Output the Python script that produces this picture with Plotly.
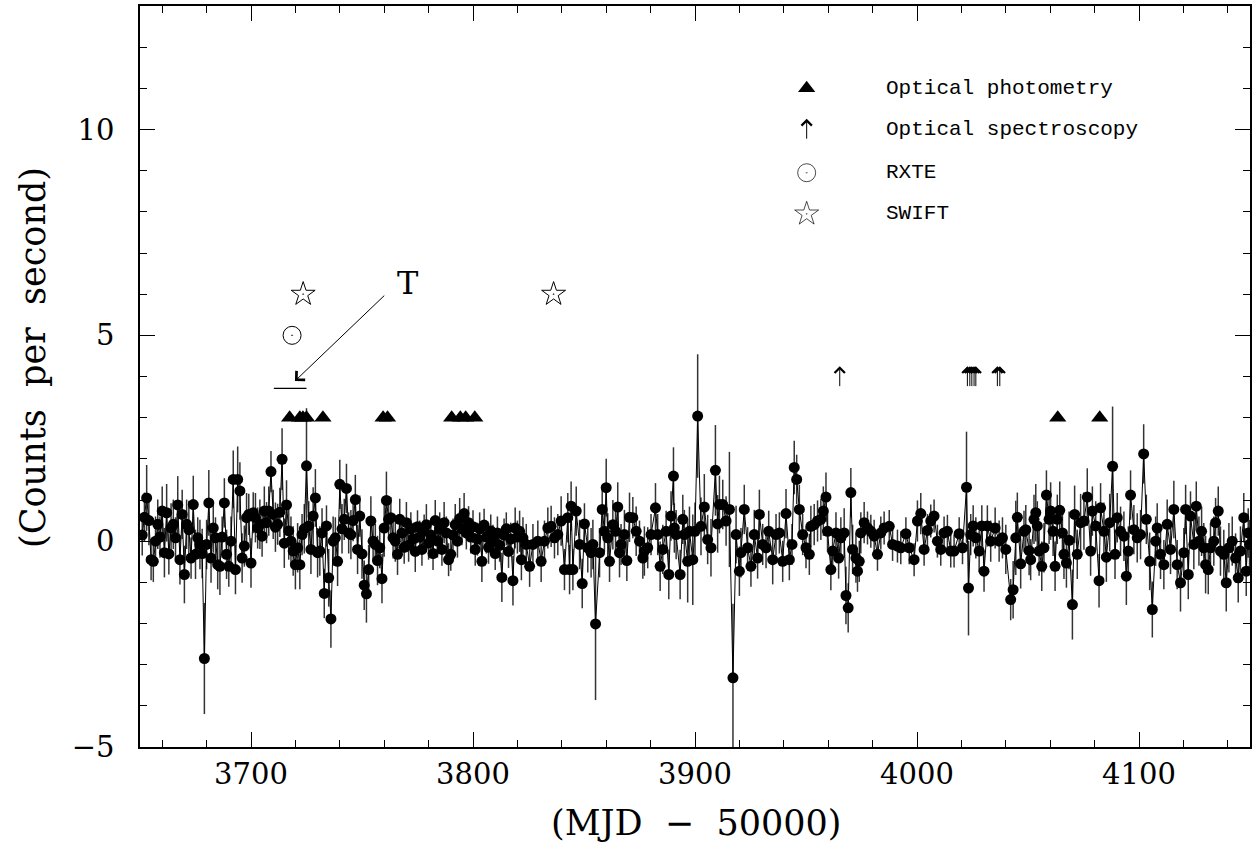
import plotly.graph_objects as go

# light curve: one point per day up to 3820, read point by point after that
mjd_a = [
    3651, 3652, 3653, 3654, 3655, 3656, 3657, 3658, 3659, 3660,
    3661, 3662, 3663, 3664, 3665, 3666, 3667, 3668, 3669, 3670,
    3671, 3672, 3673, 3674, 3675, 3676, 3677, 3678, 3679, 3680,
    3681, 3682, 3683, 3684, 3685, 3686, 3687, 3688, 3689, 3690,
    3691, 3692, 3693, 3694, 3695, 3696, 3697, 3698, 3699, 3700,
    3701, 3702, 3703, 3704, 3705, 3706, 3707, 3708, 3709, 3710,
    3711, 3712, 3713, 3714, 3715, 3716, 3717, 3718, 3719, 3720,
    3721, 3722, 3723, 3724, 3725, 3726, 3727, 3728, 3729, 3730,
    3731, 3732, 3733, 3734, 3735, 3736, 3737, 3738, 3739, 3740,
    3741, 3742, 3743, 3744, 3745, 3746, 3747, 3748, 3749, 3750,
    3751, 3752, 3753, 3754, 3755, 3756, 3757, 3758, 3759, 3760,
    3761, 3762, 3763, 3764, 3765, 3766, 3767, 3768, 3769, 3770,
    3771, 3772, 3773, 3774, 3775, 3776, 3777, 3778, 3779, 3780,
    3781, 3782, 3783, 3784, 3785, 3786, 3787, 3788, 3789, 3790,
    3791, 3792, 3793, 3794, 3795, 3796, 3797, 3798, 3799, 3800,
    3801, 3802, 3803, 3804, 3805, 3806, 3807, 3808, 3809, 3810,
    3811, 3812, 3813, 3814, 3815, 3816, 3817, 3818, 3819, 3820,
]
rate_a = [
    0.15, 0.58, 1.05, 0.50, -0.45, -0.49, 0.00, 0.41, 0.10, 0.73,
    -0.28, 0.69, -0.31, 0.32, 0.41, 0.08, 0.88, -0.45, 0.65, -0.81,
    0.41, 0.28, -0.41, 0.89, -0.32, 0.08, -0.08, -0.30, -2.85, -0.08,
    0.93, -0.41, 0.32, 0.08, -0.57, -0.61, 0.10, 0.93, -0.32, -0.61,
    0.00, 1.50, -0.69, 1.50, 1.22, -0.41, -0.12, 0.57, 0.65, -0.53,
    0.69, 0.57, 0.32, 0.41, 0.12, 0.73, 0.45, 0.73, 1.69, 0.65,
    0.34, 0.41, 0.70, 1.99, -0.05, 0.88, 0.25, 0.00, -0.24, -0.57,
    -0.16, -0.57, 0.16, 0.30, 1.83, 0.37, -0.20, 0.61, 1.05, -0.28,
    -0.24, 0.20, -1.27, 0.37, -0.89, -1.89, 0.00, 0.08, -0.49, 1.38,
    0.30, 0.53, 1.28, 0.20, 0.16, 0.50, 1.01, -0.20, 0.61, -0.31,
    -1.07, -1.28, -0.69, 0.49, 0.00, -0.08, -0.47, -0.16, -0.91, 0.32,
    0.99, 0.53, 0.57, 0.08, 0.00, -0.32, 0.53, 0.20, -0.15, 0.45,
    -0.10, 0.30, 0.05, -0.25, 0.35, 0.10, -0.20, 0.25, 0.40, -0.05,
    0.15, -0.30, 0.50, 0.00, 0.30, -0.20, 0.45, 0.20, -0.45, -0.32,
    0.15, 0.40, 0.00, 0.55, 0.30, 0.67, 0.20, 0.45, 0.10, 0.35,
    -0.20, 0.05, 0.30, -0.49, 0.39, 0.10, -0.15, 0.25, 0.00, -0.30,
    0.20, -0.10, -0.88, 0.15, 0.30, -0.25, 0.05, -0.96, 0.32, 0.10,
]
err_a = [
    0.5, 0.6, 0.8, 0.6, 0.5, 0.5, 0.6, 0.6, 0.5, 0.6,
    0.6, 0.7, 0.5, 0.6, 0.6, 0.5, 0.7, 0.6, 0.6, 0.7,
    0.6, 0.7, 0.5, 0.7, 0.6, 0.5, 0.6, 0.6, 1.35, 0.6,
    0.8, 0.6, 0.6, 0.5, 0.6, 0.7, 0.5, 0.6, 0.6, 0.5,
    0.6, 0.7, 0.6, 0.8, 0.7, 0.6, 0.5, 0.6, 0.5, 0.6,
    0.5, 0.6, 0.5, 0.6, 0.5, 0.6, 0.5, 0.6, 0.5, 0.6,
    0.6, 0.5, 0.6, 0.75, 0.6, 0.6, 0.7, 0.6, 0.6, 0.6,
    0.6, 0.6, 0.5, 0.6, 1.4, 0.6, 0.6, 0.7, 0.7, 0.6,
    0.6, 0.6, 0.6, 0.5, 0.7, 0.7, 0.6, 0.5, 0.6, 0.6,
    0.6, 0.5, 0.6, 0.5, 0.6, 0.5, 0.6, 0.6, 0.5, 0.6,
    0.6, 0.7, 0.6, 0.6, 0.5, 0.5, 0.6, 0.5, 0.6, 0.7,
    0.7, 0.5, 0.5, 0.5, 0.5, 0.5, 0.5, 0.4, 0.4, 0.5,
    0.4, 0.4, 0.4, 0.5, 0.4, 0.4, 0.4, 0.4, 0.5, 0.4,
    0.4, 0.4, 0.5, 0.4, 0.4, 0.4, 0.5, 0.4, 0.4, 0.4,
    0.4, 0.5, 0.4, 0.5, 0.4, 0.5, 0.4, 0.4, 0.4, 0.4,
    0.4, 0.4, 0.4, 0.5, 0.4, 0.4, 0.4, 0.4, 0.4, 0.4,
    0.4, 0.4, 0.6, 0.4, 0.4, 0.4, 0.4, 0.6, 0.5, 0.4,
]

mjd_b = [
    3821.0, 3821.8, 3822.5, 3824.0, 3825.5, 3827.0, 3829.2, 3830.7, 3832.2, 3833.7,
    3835.2, 3836.7, 3838.2, 3839.7, 3841.2, 3842.7, 3843.5, 3844.2, 3845.0, 3846.5,
    3848.0, 3849.2, 3850.2, 3851.7, 3853.2, 3854.0, 3855.2, 3857.0, 3858.2, 3859.2,
    3860.0, 3860.7, 3861.5, 3863.0, 3864.2, 3865.2, 3866.0, 3866.7, 3868.2, 3869.3,
    3870.5, 3872.0, 3873.5, 3875.0, 3876.5, 3877.2, 3878.7, 3880.2, 3882.2, 3883.2,
    3884.3, 3885.5, 3887.0, 3888.2, 3889.2, 3890.3, 3890.7, 3891.5, 3893.3, 3894.5,
    3895.2, 3896.7, 3897.5, 3899.0, 3900.0, 3901.2, 3902.7, 3904.2, 3905.7, 3907.2,
    3909.2, 3910.2, 3911.0, 3912.5, 3914.0, 3915.5, 3917.1, 3918.5, 3920.0, 3920.7,
    3922.2, 3923.7, 3925.2, 3926.7, 3928.2, 3929.0, 3930.5, 3932.0, 3933.2, 3935.0,
    3936.5, 3938.0, 3939.5, 3941.0, 3942.5, 3943.7, 3944.7, 3945.8, 3947.0, 3948.5,
    3950.0, 3951.5, 3952.2, 3953.7, 3955.2, 3956.7, 3957.8, 3959.0, 3959.7, 3961.2,
    3962.0, 3963.5, 3964.7, 3965.7, 3967.2, 3968.0, 3969.0, 3970.2, 3971.0, 3972.5,
    3973.2, 3974.0, 3974.7, 3976.2, 3977.7, 3979.2, 3980.7, 3982.2, 3983.7, 3985.2,
    3987.5, 3989.0, 3991.2,
]
rate_b = [
    0.24, -0.45, 0.08, -0.08, -0.61, -0.08, 0.00, -0.49, 0.00, 0.32,
    0.36, 0.08, 0.16, 0.49, -0.69, 0.57, -0.69, 0.85, -0.69, 0.73,
    -0.08, -1.03, 0.42, -0.16, -0.28, -0.08, -2.01, -0.28, 0.77, 0.24,
    1.30, 0.08, -0.49, 0.40, 0.24, 0.83, -0.28, -0.08, 0.16, -0.47,
    0.58, 0.57, 0.24, 0.00, -0.41, -0.24, -0.16, 0.16, 0.81, 0.16,
    -0.61, -0.20, 0.24, -0.81, 0.61, 1.58, 0.32, 0.16, -0.81, 0.53,
    0.16, -0.49, 0.24, -0.45, 0.24, 3.04, 0.36, 0.83, 0.04, -0.16,
    1.72, 0.42, 0.89, 0.89, 0.49, 0.77, -3.32, 0.16, -0.73, -0.28,
    0.77, -0.16, -0.61, 0.16, -0.41, 0.65, -0.08, -0.16, 0.24, -0.45,
    0.16, 0.20, -0.49, 0.67, -0.45, -0.08, 1.79, 1.50, 0.77, 0.16,
    -0.16, -0.32, 0.36, 0.40, 0.49, 0.53, 0.73, 1.07, 0.24, -0.69,
    -0.24, 0.20, -0.41, 0.08, 0.20, -1.32, -1.62, 1.18, -0.20, -0.41,
    -0.73, -0.49, 0.20, 0.45, 0.32, 0.24, 0.12, -0.32, 0.20, 0.32,
    0.36, -0.08, -0.12,
]
err_b = [
    0.5, 0.5, 0.5, 0.5, 0.5, 0.5, 0.5, 0.5, 0.5, 0.5,
    0.5, 0.5, 0.5, 0.6, 0.5, 0.6, 0.6, 0.6, 0.5, 0.6,
    0.6, 0.6, 0.5, 0.6, 0.6, 0.6, 1.85, 0.6, 0.6, 0.5,
    0.7, 0.6, 0.5, 0.6, 0.5, 0.6, 0.6, 0.5, 0.6, 0.5,
    0.6, 0.5, 0.6, 0.5, 0.5, 0.6, 0.5, 0.5, 0.6, 0.5,
    0.6, 0.6, 0.5, 0.6, 0.6, 0.7, 0.6, 0.6, 0.6, 0.6,
    0.6, 1.0, 0.6, 1.1, 0.7, 1.5, 0.7, 0.8, 0.6, 0.7,
    1.1, 0.7, 0.7, 0.6, 0.6, 1.4, 1.8, 0.7, 0.6, 0.6,
    0.6, 0.5, 0.5, 0.6, 0.5, 0.6, 0.5, 0.5, 0.5, 0.6,
    0.5, 0.5, 0.5, 0.6, 0.5, 0.5, 0.65, 0.6, 0.6, 0.5,
    0.5, 0.5, 0.5, 0.5, 0.5, 0.5, 0.6, 0.6, 0.5, 0.5,
    0.5, 0.5, 0.5, 0.5, 0.6, 0.7, 0.6, 0.6, 0.6, 0.6,
    0.5, 0.5, 0.5, 0.5, 0.4, 0.4, 0.4, 0.4, 0.4, 0.4,
    0.4, 0.4, 0.4,
]

mjd_c = [
    3992.7, 3995.0, 3996.5, 3998.7, 4000.2, 4001.7, 4003.2, 4004.7, 4006.2, 4007.7,
    4009.2, 4010.7, 4012.2, 4013.7, 4015.2, 4016.7, 4019.0, 4020.5, 4022.3, 4023.2,
    4024.2, 4025.3, 4026.5, 4028.0, 4029.2, 4030.2, 4031.7, 4033.2, 4035.2, 4037.0,
    4038.5, 4040.0, 4042.2, 4043.3, 4044.5, 4045.2, 4046.7, 4048.2, 4049.0, 4050.5,
    4051.2, 4052.7, 4053.5, 4054.2, 4055.0, 4056.2, 4057.2, 4058.3, 4059.5, 4060.2,
    4061.3, 4062.2, 4063.2, 4064.3, 4065.5, 4066.2, 4067.3, 4068.5, 4070.0, 4071.0,
    4072.2, 4073.7, 4075.2, 4076.7, 4078.2, 4079.0, 4080.5, 4082.0, 4082.7, 4084.2,
    4085.3, 4086.8, 4088.1, 4089.2, 4090.2, 4091.7, 4093.2, 4094.3, 4095.2, 4096.2,
    4097.7, 4099.2, 4100.7, 4102.1, 4103.3, 4104.8, 4106.0, 4107.5, 4108.2, 4109.7,
    4111.2, 4112.7, 4114.2, 4115.7, 4117.2, 4118.7, 4120.2, 4121.0, 4122.2, 4123.2,
    4124.7, 4125.8, 4127.0, 4128.2, 4129.2, 4130.0, 4131.2, 4132.2, 4133.7, 4134.5,
    4135.7, 4136.7, 4138.2, 4139.3, 4140.5, 4142.0, 4143.5, 4144.7, 4145.7, 4147.2,
    4148.3, 4149.2, 4149.8,
]
rate_c = [
    -0.16, 0.18, -0.16, -0.45, 0.49, 0.67, -0.20, 0.26, 0.49, 0.61,
    0.00, -0.20, 0.20, 0.24, -0.24, -0.24, 0.18, -0.16, 1.31, -1.14,
    0.16, 0.37, 0.08, -0.24, 0.37, -0.73, 0.37, 0.00, 0.32, 0.00,
    0.08, -0.20, -1.42, -1.18, 0.08, 0.58, -0.55, 0.24, 0.28, -0.23,
    -0.45, 0.53, 0.69, 0.37, -0.24, -0.61, -0.16, 1.12, 0.53, 0.73,
    0.24, -0.61, 0.53, 0.75, 0.20, -0.32, -0.53, 0.02, -1.54, 0.65,
    -0.32, 0.45, 0.49, 1.07, -0.24, 0.73, 0.37, -0.96, 0.81, 0.24,
    -0.39, 0.45, 1.82, -0.32, 0.57, 0.24, 0.12, -0.85, -0.24, 1.12,
    0.28, 0.08, 0.16, 2.12, 0.53, -0.49, -1.66, 0.00, 0.32, -0.32,
    -0.57, 0.41, -0.20, 0.77, -0.57, -1.01, -0.28, 0.77, -0.81, 0.61,
    -0.08, 0.85, 0.00, 0.24, -0.16, -0.57, -0.69, -0.16, 0.00, 0.45,
    0.73, -0.24, -0.32, -1.01, -0.16, 0.00, -0.41, -0.89, -0.24, 0.57,
    -0.73, 0.20, -0.08,
]
err_c = [
    0.4, 0.4, 0.4, 0.4, 0.5, 0.5, 0.4, 0.4, 0.4, 0.4,
    0.4, 0.4, 0.4, 0.4, 0.4, 0.4, 0.4, 0.4, 1.35, 1.15,
    0.5, 0.5, 0.5, 0.5, 0.5, 0.5, 0.5, 0.5, 0.5, 0.5,
    0.5, 0.6, 0.5, 0.7, 0.9, 0.6, 0.6, 0.5, 0.6, 0.6,
    0.5, 0.6, 0.7, 0.6, 0.6, 0.6, 0.6, 0.6, 0.6, 0.7,
    0.6, 0.6, 0.6, 0.7, 0.6, 0.6, 0.6, 0.7, 0.85, 0.7,
    0.6, 0.7, 0.7, 0.7, 0.6, 0.6, 0.6, 0.65, 0.6, 0.7,
    0.6, 0.7, 1.45, 0.6, 0.6, 0.6, 0.6, 0.7, 0.6, 0.6,
    0.6, 0.6, 0.6, 0.72, 0.6, 0.7, 0.68, 0.6, 0.6, 0.6,
    0.6, 0.6, 0.6, 0.7, 0.6, 0.7, 0.6, 0.6, 0.6, 0.6,
    0.6, 0.6, 0.6, 0.6, 0.6, 0.7, 0.6, 0.6, 0.6, 0.6,
    0.6, 0.6, 0.6, 0.7, 0.6, 0.6, 0.6, 0.6, 0.6, 0.6,
    0.6, 0.6, 0.6,
]

# observation markers
phot_mjd = [3717.4, 3722.0, 3723.4, 3725.0, 3732.4, 3759.5, 3761.5,
            3790.4, 3794.3, 3796.7, 3800.8, 4063.4, 4082.3]
phot_level = 3.0
spec_mjd = [3965.2, 4022.7, 4023.8, 4024.7, 4025.7, 4026.5, 4036.2, 4037.3]
spec_low, spec_high = 3.73, 4.25
rxte_mjd = [3718.5]
rxte_level = 5.0
swift_mjd = [3723.5, 3836.3]
swift_level = 6.0

mjd = mjd_a + mjd_b + mjd_c
rate = rate_a + rate_b + rate_c
err = err_a + err_b + err_c

serif = "DejaVu Serif"
mono = "Liberation Mono"

fig = go.Figure()

fig.add_trace(go.Scatter(
    x=mjd, y=rate, mode="lines+markers",
    line=dict(color="black", width=1),
    marker=dict(color="black", size=11),
    error_y=dict(type="data", array=err, color="#333333", thickness=1.5, width=0),
    hoverinfo="skip",
))

fig.add_trace(go.Scatter(
    x=phot_mjd, y=[phot_level] * len(phot_mjd), mode="markers",
    marker=dict(symbol="triangle-up", size=15, color="black", line=dict(width=0)),
    hoverinfo="skip",
))
fig.add_trace(go.Scatter(
    x=rxte_mjd, y=[rxte_level] * len(rxte_mjd), mode="markers",
    marker=dict(symbol="circle-open-dot", size=18, color="black",
                line=dict(width=1, color="black")),
    hoverinfo="skip",
))
fig.add_trace(go.Scatter(
    x=swift_mjd, y=[swift_level] * len(swift_mjd), mode="markers",
    marker=dict(symbol="star-open-dot", size=18, color="black",
                line=dict(width=1, color="black")),
    hoverinfo="skip",
))

# spectroscopy epochs as small upward arrows
for sx in spec_mjd:
    fig.add_annotation(x=sx, y=spec_high, ax=sx, ay=spec_low, axref="x", ayref="y",
                       text="", showarrow=True, arrowhead=4, arrowsize=2,
                       arrowwidth=1, arrowcolor="black")

# hand-drawn key in the upper right
key_x, key_text_x = 3950.3, 3985.3
key_rows = [11.0, 10.0, 8.95, 7.95]
key_labels = ["Optical photometry", "Optical spectroscopy", "RXTE", "SWIFT"]
fig.add_trace(go.Scatter(
    x=[key_x], y=[key_rows[0]], mode="markers",
    marker=dict(symbol="triangle-up", size=15, color="black", line=dict(width=0)),
    hoverinfo="skip",
))
fig.add_trace(go.Scatter(
    x=[key_x, key_x], y=[key_rows[2], key_rows[3]], mode="markers",
    marker=dict(symbol=["circle-open-dot", "star-open-dot"], size=[18, 18],
                color="black", line=dict(width=1, color="black")),
    hoverinfo="skip",
))
fig.add_annotation(x=key_x, y=key_rows[1] + 0.26, ax=key_x, ay=key_rows[1] - 0.26,
                   axref="x", ayref="y", text="", showarrow=True, arrowhead=4,
                   arrowsize=2, arrowwidth=1, arrowcolor="black")
for row, label in zip(key_rows, key_labels):
    fig.add_annotation(x=key_text_x, y=row, text=label, showarrow=False,
                       xanchor="left", yanchor="middle",
                       font=dict(family=mono, size=21, color="black"))

# "T" marker with its arrow and bar
fig.add_annotation(x=3770.5, y=6.28, text="T", showarrow=False,
                   xanchor="center", yanchor="middle",
                   font=dict(family=serif, size=32, color="black"))
fig.add_annotation(x=3719.8, y=3.89, ax=3760.7, ay=6.0, axref="x", ayref="y",
                   text="", showarrow=True, arrowhead=4, arrowsize=2.4,
                   arrowwidth=1, arrowcolor="black")
fig.add_shape(type="line", x0=3710.3, x1=3725.0, y0=3.71, y1=3.71,
              line=dict(color="black", width=1.3))

# axis titles
fig.add_annotation(x=-0.097, xref="paper", y=4.46, yref="y", textangle=-90,
                   xanchor="center", yanchor="middle",
                   text="(Counts\u00a0\u00a0per\u00a0\u00a0second)", showarrow=False,
                   font=dict(family=serif, size=35, color="black"))
fig.add_annotation(x=3900.5, y=-0.103, yref="paper",
                   xanchor="center", yanchor="middle",
                   text="(MJD\u00a0\u00a0\u2212\u00a0\u00a050000)", showarrow=False,
                   font=dict(family=serif, size=35, color="black"))

axis_common = dict(
    showline=True, linecolor="black", linewidth=1.5, mirror="allticks",
    ticks="inside", ticklen=15, tickwidth=1.2, tickcolor="black",
    showgrid=False, zeroline=False,
    tickfont=dict(family=serif, size=29, color="black"),
)
fig.update_xaxes(range=[3650, 4150], dtick=100, tick0=0,
                 minor=dict(dtick=20, ticklen=7, ticks="inside", tickcolor="black",
                            tickwidth=1.2, showgrid=False),
                 ticklabelstandoff=0, **axis_common)
fig.update_yaxes(range=[-5, 13], dtick=5, tick0=0,
                 minor=dict(dtick=1, ticklen=7, ticks="inside", tickcolor="black",
                            tickwidth=1.2, showgrid=False),
                 ticklabelstandoff=18, **axis_common)

fig.update_layout(
    width=1256, height=844,
    margin=dict(l=140, r=4, t=6, b=97),
    paper_bgcolor="white", plot_bgcolor="white",
    showlegend=False,
)

fig.write_html("out.html", config={"displayModeBar": False},
               post_script="document.body.style.margin='0';")
